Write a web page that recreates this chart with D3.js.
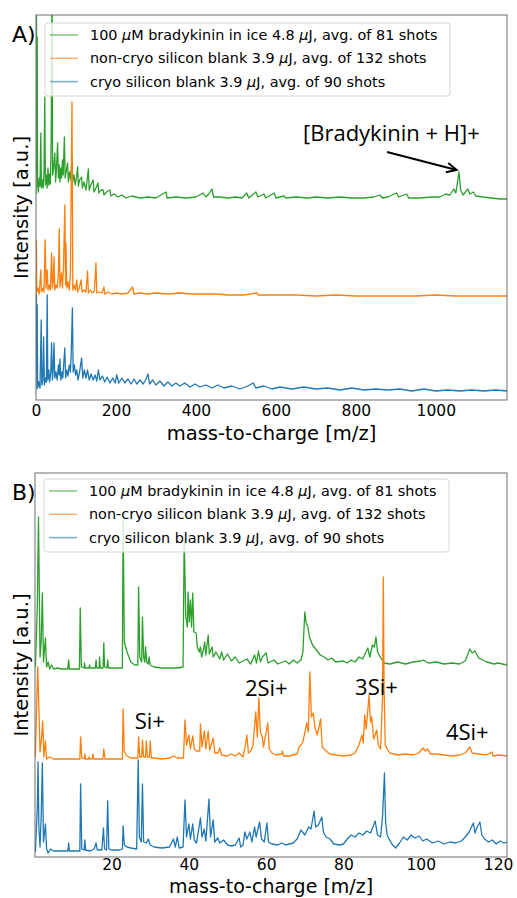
<!DOCTYPE html>
<meta charset="utf-8">
<style>
body { margin: 0; background: #fff; }
svg text { font-family: "DejaVu Sans", sans-serif; fill: #000; }
.tick text { font-size: 15.5px; }
.note { font-family: "Open Sans", sans-serif; font-size: 22px; }
</style>
<div id="chart"></div>
<script src="https://cdn.jsdelivr.net/npm/d3@7"></script>
<script>

// legend labels (same in both panels), split round the italic mu
var labels = [
  ["100 ", "\u03BC", "M bradykinin in ice 4.8 ", "\u03BC", "J, avg. of 81 shots"],
  ["non-cryo silicon blank 3.9 ", "\u03BC", "J, avg. of 132 shots"],
  ["cryo silicon blank 3.9 ", "\u03BC", "J, avg. of 90 shots"]
];
var colors = ["#2ca02c", "#ff7f0e", "#1f77b4"];

// panel A: [m/z, stacked intensity a.u.]
var greenA = [[0,205],[1,420],[2,230],[3,363],[4,215],[6,208],[8,222],[10,214],[12,267],[13.5,212],[16,220],[18,212],[20,228],[22,303],[23.5,215],[26,225],[28,212],[30,232],[32,215],[34,226],[36,216],[38,260],[40,420],[41.5,225],[44,232],[47,247],[49,218],[51,230],[54,257],[56,222],[58,235],[60,218],[62,232],[64,222],[66,240],[68,225],[71,263],[73,222],[76,230],[79,237],[81,218],[84,228],[87,220],[90,245],[92,218],[95,225],[98,215],[101,222],[104,233],[106,214],[109,220],[114,223],[116,212],[120,218],[125,210],[131,231],[133,210],[137,215],[143,220],[145,208],[150,212],[155,217],[157,207],[162,210],[168,210],[170,205],[176,208],[185,210],[187,204],[195,206],[205,203],[215,205],[225,202],[240,204],[260,202],[280,203],[300,202],[325,208],[328,202],[350,203],[375,202],[400,203],[418,207],[425,203],[432,206],[440,211],[444,203],[460,203],[480,202],[500,203],[515,202],[527,207],[532,202],[550,208],[555,203],[570,206],[575,202],[596,207],[600,202],[620,204],[625,202],[650,203],[680,202],[700,203],[730,202],[760,203],[790,202],[820,202],[845,203],[860,205],[866,202],[880,203],[902,207],[907,203],[927,206],[932,202],[960,202],[990,203],[1010,203],[1025,206],[1035,205],[1045,211],[1050,207],[1058,228],[1062,210],[1068,205],[1072,207],[1080,211],[1085,206],[1094,208],[1100,204],[1117,203],[1140,202],[1160,201],[1178,201]];
var orangeA = [[0,105],[1,160],[2,108],[5,112],[8,106],[12,130],[13.5,108],[18,112],[20,108],[23,160],[25,112],[28,130],[30,110],[33,115],[36,110],[39,147],[41,112],[43,118],[45,143],[47,110],[50,115],[53,112],[56,125],[58,171],[60,113],[62,120],[64,127],[66,112],[69,135],[72,195],[74,115],[75,157],[77,112],[80,118],[83,110],[86,125],[90,298],[92,110],[95,115],[98,110],[102,120],[104,108],[108,112],[113,120],[115,108],[120,110],[125,108],[129,129],[131,107],[136,110],[141,107],[146,109],[150,137],[152,107],[158,108],[165,107],[170,113],[172,106],[180,108],[190,106],[200,107],[215,106],[230,107],[242,113],[245,106],[260,107],[280,106],[300,107],[330,106],[360,107],[390,106],[420,106],[450,106],[480,105],[520,105],[552,107],[556,105],[600,105],[650,105],[700,104],[750,105],[800,104],[850,104],[900,104],[950,104],[1000,105],[1050,104],[1100,104],[1150,104],[1178,104]];
var blueA = [[0,10],[1,105],[2,30],[3,95],[4,12],[7,18],[10,12],[13,80],[14.5,15],[17,20],[19,63],[21,15],[24,22],[26,18],[28,105],[29.5,20],[32,30],[34,18],[37,28],[39,57],[41,20],[43,30],[45,57],[47,22],[50,28],[53,20],[56,35],[58,25],[60,41],[62,20],[65,28],[67,22],[70,40],[72,52],[74,22],[77,30],[80,24],[83,35],[86,28],[88,45],[91,92],[93,28],[96,35],[99,25],[102,30],[105,20],[109,28],[114,42],[117,22],[121,30],[125,22],[129,30],[133,20],[138,26],[143,20],[148,25],[152,19],[156,30],[160,20],[166,24],[172,18],[178,23],[185,17],[192,22],[198,17],[202,25],[207,17],[215,22],[222,17],[230,21],[238,16],[245,21],[252,16],[260,20],[268,16],[274,20],[280,26],[284,16],[292,20],[300,15],[310,19],[320,14],[330,18],[340,14],[350,17],[360,14],[372,17],[385,13],[398,16],[410,13],[425,15],[440,12],[455,15],[470,12],[490,14],[510,11],[530,14],[543,17],[550,12],[570,14],[590,11],[610,13],[640,11],[670,13],[700,11],[730,12],[760,10],[790,12],[820,10],[850,11],[880,10],[910,11],[940,9],[970,11],[1000,9],[1030,10],[1060,9],[1090,10],[1120,9],[1150,10],[1178,9]];

// panel B
var greenB = [[0.3,190],[0.8,250],[1.1,340],[1.5,200],[1.8,215],[2.1,264],[2.4,195],[2.9,219],[3.2,190],[3.6,195],[4,188],[4.5,192],[5,188],[6,189],[7,188],[8.7,188],[8.9,197],[9.1,188],[11.7,188],[11.9,249],[12.2,190],[12.9,189],[13,194],[13.2,189],[14.2,189],[14.3,192],[14.5,189],[15.8,189],[16,197],[16.2,189],[16.8,189],[16.9,200],[17.1,189],[17.8,189],[18,214],[18.2,190],[18.8,189],[19,197],[19.2,189],[22.8,189],[23,337],[23.3,215],[24,205],[25,195],[26,192],[26.8,192],[27,270],[27.3,200],[27.8,195],[28,240],[28.3,200],[28.6,195],[28.8,210],[29.1,195],[29.5,193],[29.7,200],[30,192],[31,190],[33,189],[35,189],[37,189],[38.5,190],[38.8,320],[39.2,240],[39.6,230],[39.8,265],[40.1,235],[40.4,257],[40.7,230],[41,264],[41.3,225],[41.9,224],[42.2,210],[42.7,205],[43,210],[43.3,200],[43.8,208],[44.1,215],[44.4,202],[45,222],[45.3,203],[46,210],[46.3,200],[47,205],[48,198],[48.5,205],[49,197],[50,203],[51,196],[52,200],[53,194],[55,198],[56,193],[57,202],[57.5,194],[58,206],[58.5,195],[59,200],[60,204],[60.5,194],[62,197],[63,193],[65,196],[66,193],[67,197],[68,194],[69,197],[69.5,205],[70,245],[70.3,235],[70.8,230],[71.2,220],[72,212],[73,207],[74,202],[75,200],[76,197],[77,199],[78,195],[80,196],[81,194],[82,197],[83,195],[84,200],[85,198],[85.8,205],[86.3,209],[86.8,200],[87.5,212],[88,210],[88.4,220],[88.8,205],[89.5,200],[90.5,194],[92,193],[94,195],[96,193],[98,195],[100,196],[100.6,197],[102,194],[104,195],[106,193],[108,194],[110,193],[111.5,196],[112.7,208],[113.3,204],[114,206],[115,199],[116,197],[117,195],[119,193],[120,194],[122.3,192]];
var orangeB = [[0.3,100],[0.9,190],[1.2,150],[1.5,105],[1.9,120],[2.2,136],[2.5,100],[2.9,116],[3.2,98],[4,100],[5,98],[8,98],[11.8,98],[12,120],[12.3,99],[12.9,98],[13.1,103],[13.3,98],[14,98],[14.2,100],[14.4,98],[15,98],[15.2,103],[15.4,98],[17.8,98],[18,108],[18.3,98],[22.8,98],[23,148],[23.3,105],[24,101],[25,99],[26.8,99],[27,120],[27.3,100],[27.8,100],[28,117],[28.3,100],[28.8,100],[29,116],[29.3,100],[29.8,100],[30,116],[30.3,99],[31,99],[33,98],[35,99],[36,101],[37,99],[38.6,99],[39,137],[39.4,112],[40,122],[40.4,108],[41,121],[41.4,108],[42,106],[42.8,106],[43,133],[43.4,110],[44,126],[44.4,108],[45,126],[45.4,107],[46.3,119],[46.7,104],[47.5,104],[48,109],[48.5,102],[50,101],[51,103],[52,101],[53,104],[54,100],[54.5,109],[55,122],[55.4,104],[56,106],[56.6,112],[57.3,145],[57.7,120],[58.1,159],[58.5,125],[59,120],[59.3,110],[60,125],[60.4,134],[60.8,108],[61.5,104],[62.5,102],[64,103],[64.2,106],[64.5,101],[66,101],[67,102],[68,103],[68.5,110],[69,112],[69.5,115],[70.5,134],[70.9,125],[71.3,185],[71.7,140],[72.2,144],[72.6,130],[73.2,122],[74.1,138],[74.5,110],[75.5,106],[76.5,103],[78,102],[80,101],[82,102],[83,104],[84,112],[84.8,122],[85.1,114],[85.5,142],[85.9,128],[86.6,162],[87,135],[87.3,140],[87.8,118],[88.6,127],[89,112],[89.6,108],[90.1,160],[90.3,280],[90.5,170],[90.8,112],[91.3,108],[92,104],[94,102],[96,103],[98,102],[99.5,104],[100.6,109],[101.2,106],[101.8,108],[102.5,103],[104,103],[106,102],[108,101],[110,102],[111.5,104],[112.3,108],[112.7,110],[113.3,104],[115,103],[117,102],[118.4,105],[118.7,101],[120,102],[122.3,101]];
var blueB = [[0.3,5],[0.8,50],[1,95],[1.2,30],[1.5,10],[1.8,40],[2.1,94],[2.4,15],[2.9,33],[3.2,8],[3.6,4],[4.2,8],[5,6],[7,6],[8.7,6],[8.9,14],[9.1,6],[11.8,6],[12,73],[12.3,8],[12.9,7],[13.1,17],[13.3,7],[14.5,6],[15.5,8],[16,14],[16.3,7],[17.5,7],[17.9,29],[18.2,8],[18.7,7],[19,56],[19.3,8],[20,7],[22,7],[22.8,8],[23,31],[23.3,12],[24,10],[25,9],[26.5,8],[26.9,97],[27.2,20],[27.7,15],[28,73],[28.3,15],[29,14],[29.5,18],[30,12],[31,10],[33,9],[35,10],[36,18],[36.5,10],[37,20],[37.5,9],[38.5,10],[39,57],[39.4,20],[40,33],[40.4,18],[41,33],[41.4,17],[42,14],[43,39],[43.4,20],[44,28],[44.4,16],[45.2,58],[45.6,20],[46.3,37],[46.7,15],[47.5,19],[48,14],[49,17],[50,12],[51,11],[52,12],[53,19],[53.4,10],[54,12],[54.5,25],[55,18],[55.8,25],[56.3,15],[57,30],[57.4,20],[58.3,35],[58.8,18],[59.5,15],[60.2,34],[60.6,15],[61.5,13],[63,12],[64,14],[65,12],[66,13],[67,14],[68,18],[69,27],[70,22],[71,30],[71.6,28],[72.4,46],[72.8,30],[73.5,32],[74.4,40],[74.8,25],[75.5,20],[76.5,18],[77.5,13],[79,12],[80,13],[81,18],[82,22],[83,20],[84,24],[85,22],[86,26],[87,24],[87.6,30],[88.2,36],[88.8,22],[89.6,20],[90.1,40],[90.6,84],[90.9,35],[91.3,22],[91.8,18],[92.5,13],[93.5,9],[94.5,14],[95.5,20],[96.5,17],[97.5,22],[98.5,19],[99.6,21],[100.5,16],[101.5,18],[103,14],[104.5,16],[106,13],[107.5,15],[109,14],[110.5,16],[111.5,20],[112.5,25],[113.6,34],[114,24],[114.6,30],[115.3,35],[115.8,22],[116.5,18],[117.5,15],[118.5,17],[119.5,13],[120.5,16],[121.5,14],[122.3,15]];

var ticksA = [0, 200, 400, 600, 800, 1000];
var ticksB = [20, 40, 60, 80, 100, 120];

// silicon cluster labels in panel B: [text, m/z, intensity]
var siLabels = [["Si+", 26, 128], ["2Si+", 54.5, 161], ["3Si+", 83, 162], ["4Si+", 106.5, 117]];

var svg = d3.select("#chart").append("svg")
  .attr("width", 517)
  .attr("height", 898);

function panel(opt) {
  var x = d3.scaleLinear().domain(opt.xdom).range([opt.left, opt.right]);
  var y = d3.scaleLinear().domain(opt.ydom).range([opt.bottom, opt.top]);
  var g = svg.append("g");

  g.append("clipPath").attr("id", opt.id)
    .append("rect")
      .attr("x", opt.left).attr("y", opt.top)
      .attr("width", opt.right - opt.left).attr("height", opt.bottom - opt.top);

  var line = d3.line().x(function(d) { return x(d[0]); }).y(function(d) { return y(d[1]); });

  g.append("g").attr("clip-path", "url(#" + opt.id + ")")
    .selectAll("path")
    .data(opt.series)
    .enter()
    .append("path")
      .attr("d", line)
      .attr("fill", "none")
      .attr("stroke", function(d, i) { return colors[i]; })
      .attr("stroke-width", 1.3)
      .attr("stroke-linejoin", "round");

  // frame
  g.append("rect")
    .attr("x", opt.left).attr("y", opt.top)
    .attr("width", opt.right - opt.left).attr("height", opt.bottom - opt.top)
    .attr("fill", "none").attr("stroke", "#6e6e6e").attr("stroke-width", 1);

  var ax = g.append("g")
    .attr("transform", "translate(0," + opt.bottom + ")")
    .call(d3.axisBottom(x).tickValues(opt.ticks).tickSize(0).tickPadding(opt.tickPad).tickFormat(d3.format("d")));
  ax.select(".domain").remove();
  ax.selectAll("text").attr("font-family", null).attr("font-size", null);

  g.append("text")
    .attr("x", (opt.left + opt.right) / 2)
    .attr("y", opt.bottom + opt.xlabGap)
    .attr("text-anchor", "middle")
    .style("font-size", opt.xlabSize)
    .text("mass-to-charge [m/z]");

  g.append("text")
    .attr("transform", "translate(28," + ((opt.top + opt.bottom) / 2) + ") rotate(-90)")
    .attr("text-anchor", "middle")
    .style("font-size", "19.5px")
    .text("Intensity [a.u.]");

  g.append("text")
    .attr("x", 12).attr("y", opt.top + 27)
    .style("font-size", "22px")
    .text(opt.letter);

  // legend
  var lg = g.append("g").attr("transform", "translate(" + (opt.left + 9) + "," + (opt.top + opt.legTop) + ")");
  lg.append("rect")
    .attr("width", 405).attr("height", 73).attr("rx", 3)
    .attr("fill", "#fff").attr("fill-opacity", 0.8)
    .attr("stroke", "#d6d6d6");
  labels.forEach(function(parts, i) {
    var yy = 12 + i * 23.3;
    lg.append("line")
      .attr("x1", 5).attr("x2", 33).attr("y1", yy).attr("y2", yy)
      .attr("stroke", colors[i]).attr("stroke-width", 1.5).attr("stroke-opacity", 0.6);
    var t = lg.append("text")
      .attr("x", 45).attr("y", yy)
      .attr("dy", "0.35em")
      .style("font-size", "14.4px");
    parts.forEach(function(p) {
      t.append("tspan")
        .style("font-style", p === "\u03BC" ? "italic" : null)
        .text(p);
    });
  });

  return {x: x, y: y, g: g};
}

var A = panel({id: "clipA", letter: "A)", xdom: [0, 1178], ydom: [0, 385],
  left: 36, right: 507, top: 15, bottom: 400, ticks: ticksA, legTop: 8,
  tickPad: 5, xlabGap: 40, xlabSize: "19.5px", series: [greenA, orangeA, blueA]});

var B = panel({id: "clipB", letter: "B)", xdom: [0.2, 122.3], ydom: [0, 384],
  left: 35, right: 507, top: 473, bottom: 857, ticks: ticksB, legTop: 6,
  tickPad: 2, xlabGap: 36, xlabSize: "19px", series: [greenB, orangeB, blueB]});

// annotation with arrow in panel A
A.g.append("text")
  .attr("class", "note")
  .attr("x", 303).attr("y", 141)
  .text("[Bradykinin + H]+");

var ax0 = 387, ay0 = 152, ax1 = A.x(1052), ay1 = A.y(230);
var ang = Math.atan2(ay1 - ay0, ax1 - ax0);
A.g.append("line")
  .attr("x1", ax0).attr("y1", ay0).attr("x2", ax1).attr("y2", ay1)
  .attr("stroke", "#000").attr("stroke-width", 2);
A.g.append("path")
  .attr("d", "M" + (ax1 - 11 * Math.cos(ang - 0.45)) + "," + (ay1 - 11 * Math.sin(ang - 0.45)) +
    "L" + ax1 + "," + ay1 +
    "L" + (ax1 - 11 * Math.cos(ang + 0.45)) + "," + (ay1 - 11 * Math.sin(ang + 0.45)))
  .attr("fill", "none").attr("stroke", "#000").attr("stroke-width", 2);

B.g.selectAll(".si")
  .data(siLabels)
  .enter()
  .append("text")
    .attr("class", "note")
    .attr("x", function(d) { return B.x(d[1]); })
    .attr("y", function(d) { return B.y(d[2]); })
    .text(function(d) { return d[0]; });

</script>
